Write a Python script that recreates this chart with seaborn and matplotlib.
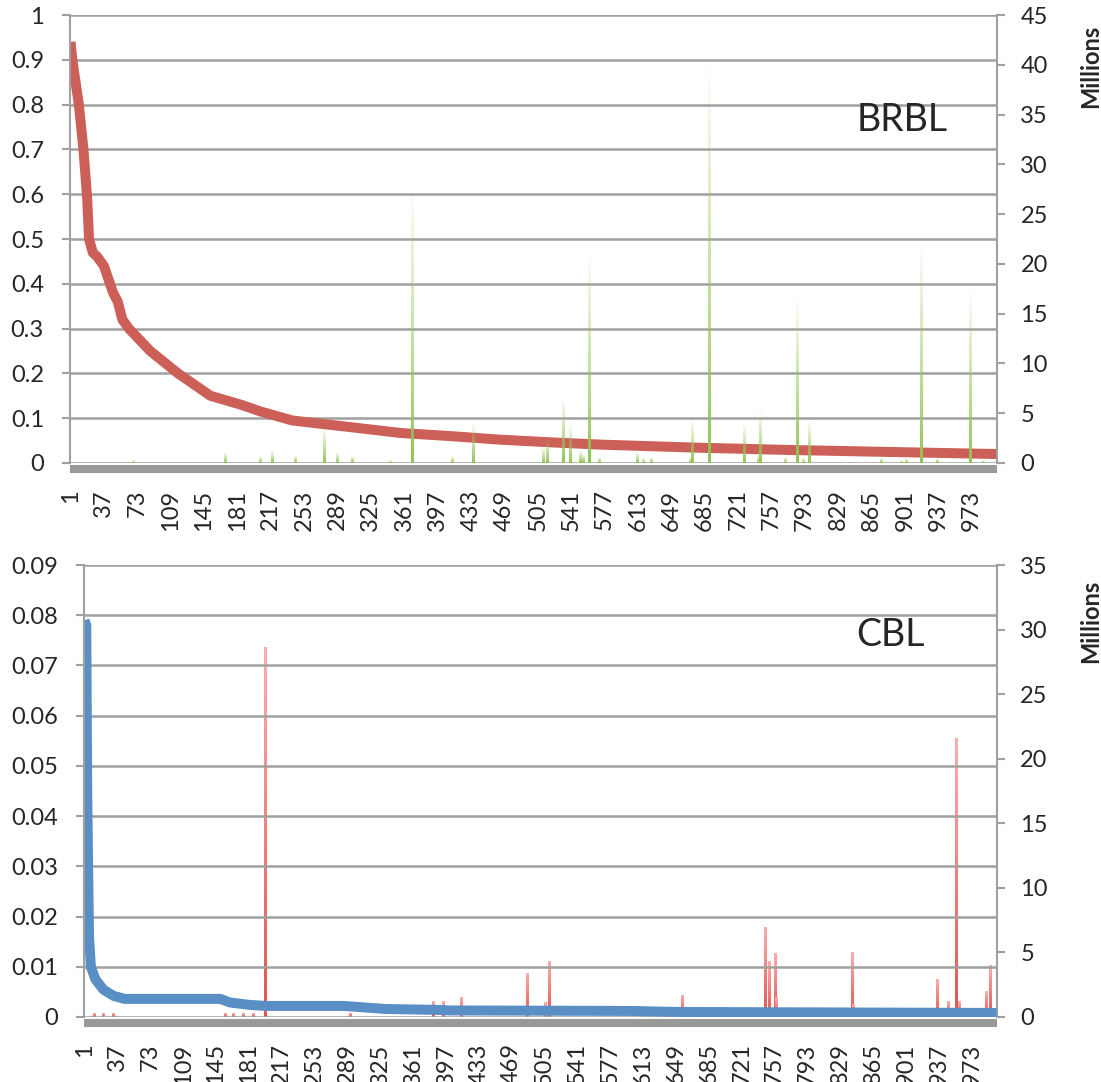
import numpy as np
import pandas as pd
import seaborn as sns
import matplotlib.pyplot as plt
from matplotlib.colors import to_rgba

n_cats = 1000
categories = list(range(1, n_cats + 1))
x_tick_labels = [1, 37, 73, 109, 145, 181, 217, 253, 289, 325, 361, 397, 433, 469,
                 505, 541, 577, 613, 649, 685, 721, 757, 793, 829, 865, 901, 937, 973]

# BRBL: decaying ratio (left axis) read at these category numbers
brbl_idx = [1, 3, 10, 15, 19, 21, 25, 30, 37, 42, 47, 52, 57, 64, 87, 117, 152, 185,
            206, 240, 303, 357, 411, 465, 520, 573, 680, 778, 900, 1000]
brbl_val = [0.94, 0.90, 0.80, 0.70, 0.59, 0.50, 0.47, 0.46, 0.44, 0.41, 0.38, 0.36,
            0.32, 0.30, 0.25, 0.20, 0.15, 0.13, 0.115, 0.095, 0.080, 0.067, 0.060,
            0.052, 0.046, 0.041, 0.034, 0.029, 0.024, 0.020]
# BRBL spikes (right axis, millions)
brbl_spike_idx = [69, 168, 206, 218, 243, 274, 289, 305, 346, 370, 413, 435, 511, 515,
                  532, 540, 551, 554, 560, 571, 612, 619, 627, 669, 671, 690, 728, 743,
                  745, 772, 785, 791, 798, 875, 897, 902, 919, 936, 971, 985, 1000]
brbl_spike_val = [0.3, 1.1, 0.7, 1.3, 0.8, 3.6, 1.1, 0.7, 0.3, 28.0, 0.7, 4.1, 1.6, 2.6,
                  6.7, 4.0, 1.3, 1.0, 21.4, 0.6, 1.1, 0.5, 0.6, 0.6, 4.4, 40.5, 4.0, 0.8,
                  5.3, 0.6, 17.0, 0.5, 4.3, 0.5, 0.3, 0.5, 22.4, 0.5, 17.7, 0.3, 16.0]

# CBL
cbl_idx = [1, 3, 4, 5, 6, 8, 13, 22, 33, 45, 150, 160, 182, 200, 285, 330, 390, 400,
           600, 650, 1000]
cbl_val = [0.079, 0.078, 0.045, 0.030, 0.016, 0.010, 0.0075, 0.0054, 0.0042, 0.0036,
           0.0036, 0.0029, 0.0024, 0.0022, 0.0022, 0.0016, 0.0014, 0.0013, 0.0012,
           0.0010, 0.0008]
cbl_spike_idx = [11, 21, 32, 155, 164, 175, 186, 199, 292, 383, 394, 413, 486, 505, 510,
                 637, 656, 747, 751, 757, 758, 842, 843, 935, 947, 956, 959, 989, 993]
cbl_spike_val = [0.25, 0.25, 0.25, 0.3, 0.3, 0.3, 0.3, 28.6, 0.3, 1.2, 1.2, 1.5, 3.4, 1.1,
                 4.3, 0.7, 1.7, 6.9, 4.3, 4.9, 1.5, 5.0, 1.0, 2.9, 1.2, 21.6, 1.2, 2.0, 4.0]

GRID = '#A0A0A0'
BAND = '#999999'

sns.set_theme(style='white')
plt.rcParams['font.family'] = ['Lato', 'DejaVu Sans']


def spike_frame(idx, val):
    s = pd.Series(0.0, index=categories)
    s.loc[idx] = val
    return pd.DataFrame({'cat': categories, 'value': s.values})


def gradient_bars(ax, bottom_rgba, top_rgba, span=2.3):
    grad = np.linspace(0, 1, 64)[:, None, None]
    img = np.array(bottom_rgba)[None, None, :] * (1 - grad) + np.array(top_rgba)[None, None, :] * grad
    for bar in list(ax.patches):
        h = bar.get_height()
        bar.set_visible(False)
        if h <= 0:
            continue
        xc = bar.get_x() + bar.get_width() / 2
        ax.imshow(img, extent=[xc - span / 2, xc + span / 2, 0, h], origin='lower',
                  aspect='auto', interpolation='bilinear', zorder=2)


def panel(rect, line_idx, line_val, line_color, spk_idx, spk_val, spk_bottom, spk_top,
          left_ticks, left_labels, right_max, label, label_pos, line_on_top):
    ax = fig.add_axes(rect)
    ax2 = ax.twinx()

    sns.barplot(data=spike_frame(spk_idx, spk_val), x='cat', y='value', ax=ax2,
                width=1, color=spk_bottom, linewidth=0)
    gradient_bars(ax2, to_rgba(spk_bottom), spk_top)

    sns.lineplot(x=np.array(line_idx) - 1, y=line_val, ax=ax, color=line_color,
                 linewidth=7.2, estimator=None, sort=False, solid_capstyle='butt')

    if line_on_top:
        ax.set_zorder(ax2.get_zorder() + 1)
        ax.patch.set_visible(False)

    ax.set_xlim(-0.5, n_cats - 0.5)
    ax.set_ylim(0, left_ticks[-1])
    ax2.set_ylim(0, right_max)
    ax.set_yticks(left_ticks)
    ax.set_yticklabels(left_labels)
    ax2.set_yticks(list(range(0, right_max + 1, 5)))
    ax2.set_yticklabels([str(v) for v in range(0, right_max + 1, 5)])
    ax.set_xticks([v - 1 for v in x_tick_labels])
    ax.set_xticklabels([str(v) for v in x_tick_labels])
    ax.set_xlabel('')
    ax.set_ylabel('')
    ax2.set_xlabel('')
    ax2.set_ylabel('')

    ax.yaxis.grid(True, color=GRID, linewidth=1.8)
    ax.xaxis.grid(False)
    ax2.grid(False)

    for s in ['top', 'right']:
        ax.spines[s].set_visible(False)
    for s in ['top', 'left', 'bottom']:
        ax2.spines[s].set_visible(False)
    ax.spines['left'].set_color(GRID)
    ax.spines['left'].set_linewidth(1.5)
    ax2.spines['right'].set_color(GRID)
    ax2.spines['right'].set_linewidth(1.5)
    ax.spines['bottom'].set_color(BAND)
    ax.spines['bottom'].set_linewidth(5.8)
    ax.spines['bottom'].set_capstyle('butt')
    ax.spines['bottom'].set_position(('outward', 4))

    ax.tick_params(axis='y', direction='out', length=5.8, width=1.5, color=GRID,
                   labelsize=17, pad=13, left=True)
    ax2.tick_params(axis='y', direction='out', length=5.8, width=1.5, color=GRID,
                    labelsize=17, pad=11, right=True)
    ax.tick_params(axis='x', length=0, labelsize=17, pad=15, labelrotation=90)

    ax.text(label_pos[0], label_pos[1], label, transform=ax.transAxes, fontsize=27,
            ha='left', va='center', zorder=10)
    return ax, ax2


fig = plt.figure(figsize=(11.01, 10.82), dpi=100)
fig.patch.set_facecolor('white')

panel([0.0636, 0.5721, 0.842, 0.414], brbl_idx, brbl_val, '#CC5F57',
      brbl_spike_idx, brbl_spike_val, '#93C456', (0.62, 0.80, 0.35, 0.0),
      [i / 10 for i in range(11)],
      ['0'] + ['0.%d' % i for i in range(1, 10)] + ['1'],
      45, 'BRBL', (0.848, 0.766), False)

panel([0.0763, 0.0601, 0.8292, 0.4177], cbl_idx, cbl_val, '#5A8FC6',
      cbl_spike_idx, cbl_spike_val, '#E2554F', (0.99, 0.68, 0.68, 1.0),
      [i / 100 for i in range(10)],
      ['0'] + ['0.0%d' % i for i in range(1, 10)],
      35, 'CBL', (0.846, 0.845), True)

fig.text(0.991, 0.939, 'Millions', rotation=90, fontsize=17, fontweight='bold',
         ha='center', va='center')
fig.text(0.991, 0.426, 'Millions', rotation=90, fontsize=17, fontweight='bold',
         ha='center', va='center')

fig.savefig('out.png', dpi=100, facecolor='white')
